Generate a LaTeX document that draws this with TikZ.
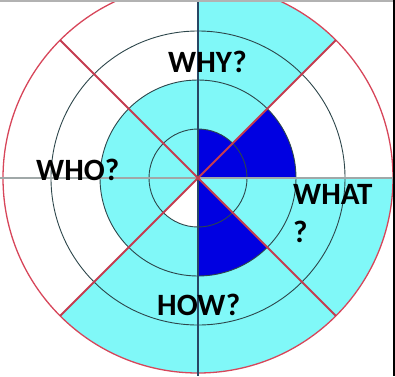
\documentclass[tikz,border=0pt]{standalone}
\usepackage{fontspec}
\setmainfont{Carlito}
\definecolor{lcyan}{RGB}{128,248,248}
\definecolor{dblue}{RGB}{0,0,225}
\definecolor{ringc}{RGB}{45,70,75}
\definecolor{redl}{RGB}{196,60,80}
\definecolor{redo}{RGB}{215,70,90}
\definecolor{hline}{RGB}{160,168,168}
\definecolor{vline}{RGB}{40,70,100}
\tikzset{
  ring/.style={draw=ringc, line width=0.9pt},
  diag/.style={draw=redl, line width=1.8pt},
  lbl/.style={font=\fontsize{31}{38}\selectfont\bfseries, inner sep=0pt, anchor=base west, align=left}
}
\begin{document}
\begin{tikzpicture}[x=1pt,y=1pt]
\useasboundingbox (-198,-198) rectangle (197,178);
\coordinate (c) at (0,0);
% cyan regions
\fill[lcyan] (c) -- (45:195) arc[start angle=45,end angle=90,radius=195] -- cycle;
\fill[lcyan] (c) -- (225:195) arc[start angle=225,end angle=360,radius=195] -- cycle;
\fill[lcyan] (c) -- (90:98) arc[start angle=90,end angle=270,radius=98] -- cycle;
\fill[white] (c) -- (225:49) arc[start angle=225,end angle=270,radius=49] -- cycle;
% blue regions
\fill[dblue] (c) -- (0:98) arc[start angle=0,end angle=45,radius=98] -- cycle;
\fill[dblue] (c) -- (45:49) arc[start angle=45,end angle=90,radius=49] -- cycle;
\fill[dblue] (c) -- (270:98) arc[start angle=270,end angle=315,radius=98] -- cycle;
% rings
\draw[ring] (c) circle[radius=49];
\draw[ring] (c) circle[radius=98];
\draw[ring] (c) circle[radius=147];
\draw[draw=redo, line width=1.3pt] (c) circle[radius=195];
% axes
\coordinate (hl) at (-198,0);
\coordinate (hr) at (195,0);
\coordinate (vt) at (0,178);
\coordinate (vb) at (0,-198);
\draw[hline, line width=2pt] (hl) -- (hr);
\draw[vline, line width=1.3pt] (vt) -- (vb);
% diagonals
\coordinate (d1) at (45:195);
\coordinate (d2) at (135:195);
\coordinate (d3) at (225:195);
\coordinate (d4) at (315:195);
\draw[diag] (c) -- (d1);
\draw[diag] (c) -- (d2);
\draw[diag] (c) -- (d3);
\draw[diag] (c) -- (d4);
% frame bits
\fill[black!30] (-198,178) rectangle (197,176.5);
\fill[black] (195.3,178) rectangle (197,-198);
% labels
\node[lbl] (why) at (-30,106) {WHY?};
\node[lbl] (who) at (-162,-2) {WHO?};
\node[lbl] (what) at (95,-64) {WHAT\\?};
\node[lbl] (how) at (-41,-137) {HOW?};
\end{tikzpicture}
\end{document}
